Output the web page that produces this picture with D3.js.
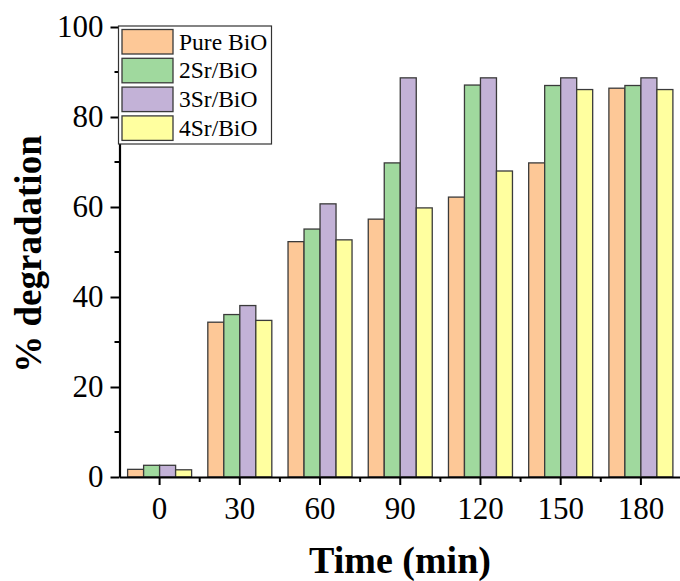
<!DOCTYPE html>
<meta charset="utf-8">
<style>
  body { margin: 0; background: #fff; }
  text { font-family: "Liberation Serif", "Times New Roman", serif; fill: #000; }
</style>
<svg width="680" height="581"></svg>
<script src="https://d3js.org/d3.v7.min.js"></script>
<script>
// data
var times = ["0", "30", "60", "90", "120", "150", "180"];
var seriesNames = ["Pure BiO", "2Sr/BiO", "3Sr/BiO", "4Sr/BiO"];
var pureBiO = [1.7, 34.4, 52.3, 57.3, 62.2, 69.8, 86.4];
var sr2 = [2.6, 36.1, 55.1, 69.8, 87.1, 87.0, 87.0];
var sr3 = [2.6, 38.1, 60.7, 88.7, 88.7, 88.7, 88.7];
var sr4 = [1.6, 34.8, 52.7, 59.8, 68.0, 86.1, 86.1];
var yTicks = [0, 20, 40, 60, 80, 100];

var colors = ["#fdc897", "#a0d99e", "#c3b2d7", "#ffff9f"];
var seriesValues = [pureBiO, sr2, sr3, sr4];

var svg = d3.select("svg");
var mLeft = 119.5, mRight = 681, mTop = 27, mBottom = 477;

var x = d3.scaleBand().domain(times).range([mLeft, mRight]).padding(0);
var xs = d3.scaleBand().domain(seriesNames).range([0, 64]);
var y = d3.scaleLinear().domain([0, 100]).range([mBottom, mTop]);

// bars
var groups = svg.append("g").selectAll("g")
  .data(times)
  .join("g")
    .attr("transform", function(d) { return "translate(" + (x(d) + x.bandwidth() / 2 - 32) + ",0)"; });

groups.selectAll("rect")
  .data(function(d, i) { return seriesNames.map(function(s, k) { return {s: s, k: k, v: seriesValues[k][i]}; }); })
  .join("rect")
    .attr("x", function(d) { return xs(d.s); })
    .attr("width", xs.bandwidth())
    .attr("y", function(d) { return y(d.v); })
    .attr("height", function(d) { return y(0) - y(d.v); })
    .attr("fill", function(d) { return colors[d.k]; })
    .attr("stroke", "#3a3a3a")
    .attr("stroke-width", 1.3);

// x axis
var xAxis = svg.append("g")
  .attr("transform", "translate(0," + mBottom + ")")
  .call(d3.axisBottom(x).tickSize(8).tickSizeOuter(0).tickPadding(12));
xAxis.select(".domain").attr("stroke", "#000").attr("stroke-width", 2.2);
xAxis.selectAll(".tick line").attr("stroke-width", 2);
xAxis.selectAll(".tick text").attr("font-size", 31).attr("font-family", "Liberation Serif");
// minor ticks between groups
svg.append("g").selectAll("line")
  .data(times.slice(1))
  .join("line")
    .attr("x1", function(d) { return x(d); })
    .attr("x2", function(d) { return x(d); })
    .attr("y1", mBottom).attr("y2", mBottom + 5)
    .attr("stroke", "#000").attr("stroke-width", 2);

// y axis
var yAxis = svg.append("g")
  .attr("transform", "translate(" + mLeft + ",0)")
  .call(d3.axisLeft(y).tickValues(yTicks).tickSize(9).tickSizeOuter(0).tickPadding(7));
yAxis.select(".domain").attr("stroke", "#000").attr("stroke-width", 2.2);
yAxis.selectAll(".tick line").attr("stroke-width", 2);
yAxis.selectAll(".tick text").attr("font-size", 31).attr("font-family", "Liberation Serif");
svg.append("g").selectAll("line")
  .data([10, 30, 50, 70, 90])
  .join("line")
    .attr("x1", mLeft - 5).attr("x2", mLeft)
    .attr("y1", function(d) { return y(d); })
    .attr("y2", function(d) { return y(d); })
    .attr("stroke", "#000").attr("stroke-width", 2);

// axis titles
svg.append("text")
  .attr("x", 400).attr("y", 573)
  .attr("text-anchor", "middle")
  .attr("font-size", 38).attr("font-weight", "bold")
  .text("Time (min)");
svg.append("text")
  .attr("transform", "translate(41,254) rotate(-90)")
  .attr("text-anchor", "middle")
  .attr("font-size", 37).attr("font-weight", "bold")
  .text("% degradation");

// legend
var legend = svg.append("g");
legend.append("rect")
  .attr("x", 118.5).attr("y", 26).attr("width", 153).attr("height", 118)
  .attr("fill", "#fff").attr("stroke", "#333").attr("stroke-width", 1.2);
var items = legend.selectAll("g.item")
  .data(seriesNames)
  .join("g").attr("class", "item")
  .attr("transform", function(d, i) { return "translate(122," + (29.5 + i * 28.8) + ")"; });
items.append("rect")
  .attr("width", 51).attr("height", 24.5)
  .attr("fill", function(d, i) { return colors[i]; })
  .attr("stroke", "#3a3a3a").attr("stroke-width", 1.3);
items.append("text")
  .attr("x", 57).attr("y", 20)
  .attr("font-size", 23.5)
  .text(function(d) { return d; });
</script>
